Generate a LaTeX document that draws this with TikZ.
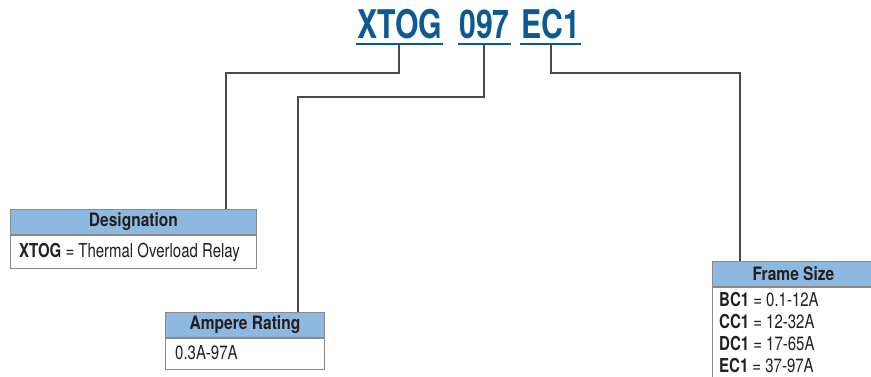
\documentclass[tikz,border=0pt]{standalone}
\usepackage{fontspec}
\setmainfont{TeX Gyre Heros}
\newfontfamily\titlef[FakeStretch=0.765]{TeX Gyre Heros}
\newfontfamily\hdrf[FakeStretch=0.84]{TeX Gyre Heros}
\newfontfamily\bodyf[FakeStretch=0.78]{TeX Gyre Heros}
\definecolor{titleblue}{HTML}{0B5A94}
\definecolor{hdrblue}{HTML}{8DB9E1}
\definecolor{boxgray}{HTML}{8A8A8A}
\definecolor{linegray}{HTML}{4A4A4A}
\definecolor{txt}{HTML}{231F20}
\begin{document}
\begin{tikzpicture}[x=1pt,y=-1pt,
  titletxt/.style={inner xsep=1pt,inner ysep=0pt,text=titleblue,font=\titlef\bfseries\fontsize{39.5}{39.5}\selectfont,anchor=base west},
  uline/.style={draw=titleblue,line width=2.6pt},
  conn/.style={draw=linegray,line width=1.5pt},
  hdrbox/.style={draw=boxgray,line width=0.9pt,fill=hdrblue,anchor=north west,inner sep=0pt,minimum height=25pt,text=txt,font=\hdrf\bfseries\fontsize{18.5}{18.5}\selectfont},
  bodybox/.style={draw=boxgray,line width=0.9pt,fill=white,anchor=north west,inner sep=0pt},
  bodytxt/.style={anchor=base west,inner sep=0pt,text=txt,font=\bodyf\fontsize{19.2}{19.2}\selectfont}]
\useasboundingbox (0,0) rectangle (871,376);
\clip (0,0) rectangle (871,376);
\fill[white] (0,0) rectangle (871,376);

% title codes
\node[titletxt] (t1) at (356,38) {XTOG};
\node[titletxt] (t2) at (458,38) {097};
\node[titletxt] (t3) at (520,38) {EC1};
\foreach \t in {t1,t2,t3}{
  \draw[uline] ([yshift=-6pt]\t.base west) -- ([yshift=-6pt]\t.base east);
}
\coordinate (u1) at (399,45);
\coordinate (u2) at (484,45);
\coordinate (u3) at (551,45);

% boxes
\node[hdrbox,minimum width=246pt] (dh) at (10,209) {Designation};
\node[bodybox,minimum width=246pt,minimum height=33pt] (db) at (dh.south west) {};
\node[bodytxt] (dt) at (19,257) {\bfseries XTOG\mdseries{} = Thermal Overload Relay};

\node[hdrbox,minimum width=159pt] (ah) at (165,312) {Ampere Rating};
\node[bodybox,minimum width=159pt,minimum height=31pt] (ab) at (ah.south west) {};
\node[bodytxt] (at) at (175,359) {0.3A-97A};

\node[hdrbox,minimum width=162pt] (fh) at (712,261) {Frame Size};
\node[bodybox,minimum width=162pt,minimum height=120pt] (fb) at (fh.south west) {};
\node[bodytxt] (f1) at (719,306) {\bfseries BC1\mdseries{} = 0.1-12A};
\node[bodytxt] (f2) at (719,328) {\bfseries CC1\mdseries{} = 12-32A};
\node[bodytxt] (f3) at (719,350) {\bfseries DC1\mdseries{} = 17-65A};
\node[bodytxt] (f4) at (719,372) {\bfseries EC1\mdseries{} = 37-97A};

% connectors
\coordinate (c1) at (226,73);
\coordinate (c2) at (298,97);
\coordinate (c3) at (740,73);
\draw[conn] (u1) |- (c1) -- (c1 |- dh.north);
\draw[conn] (u2) |- (c2) -- (c2 |- ah.north);
\draw[conn] (u3) |- (c3) -- (c3 |- fh.north);
\end{tikzpicture}
\end{document}
